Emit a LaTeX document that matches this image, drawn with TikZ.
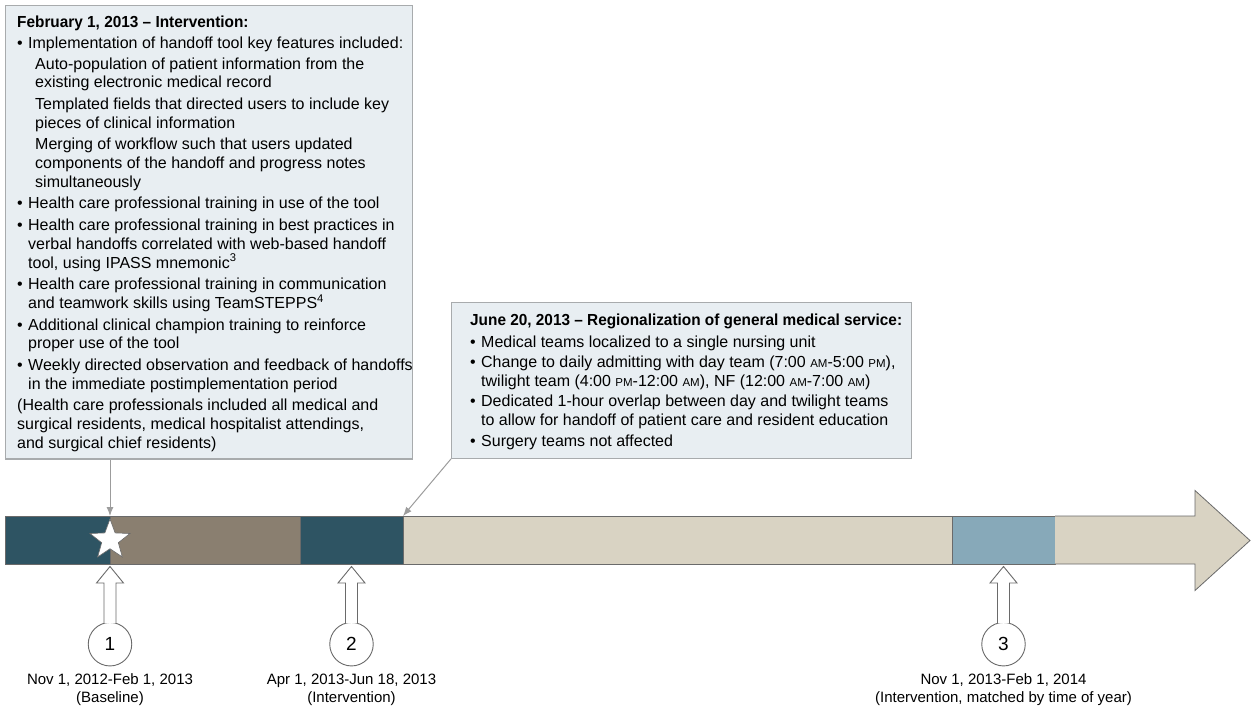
\documentclass[tikz,border=0pt]{standalone}
\usepackage{fontspec}
\setmainfont{Liberation Sans}[BoldFeatures={FakeStretch=0.96}]
\usetikzlibrary{positioning,shapes.geometric,arrows.meta}

\definecolor{boxfill}{HTML}{E8EEF2}
\definecolor{boxline}{HTML}{A8ABAD}
\definecolor{darkteal}{HTML}{2E5463}
\definecolor{taupe}{HTML}{8A7F70}
\definecolor{beige}{HTML}{D9D3C3}
\definecolor{steel}{HTML}{87A9B9}
\definecolor{barline}{HTML}{6A6A6A}
\definecolor{pointer}{HTML}{9C9C9C}

\newcommand{\boxfont}{\fontsize{16}{18.7}\selectfont}
\newcommand{\datefont}{\fontsize{15}{18.4}\selectfont}
\newcommand{\itembul}{\makebox[11pt][l]{\textbullet}}
\newcommand{\itemcont}{\hspace*{11pt}}
\newcommand{\itemsub}{\hspace*{18pt}}
\newcommand{\ampm}[1]{{\fontsize{11.5}{11.5}\selectfont #1}}

\tikzset{
    infobox/.style={draw=boxline, fill=boxfill, line width=1.2pt,
        anchor=north west, inner sep=0pt},
    infotext/.style={anchor=north west, align=left, inner sep=0pt, font=\boxfont},
    period/.style={draw=barline, line width=0.8pt, anchor=west,
        minimum height=48pt, inner sep=0pt, outer sep=0pt},
    pointer/.style={draw=pointer, line width=1pt, -{Latex[length=9pt,width=7pt]}},
    marker/.style={circle, draw=barline, line width=0.9pt, fill=white,
        minimum size=43.5pt, inner sep=0pt, font=\fontsize{19}{19}\selectfont},
    hollow/.style={draw=barline, line width=0.9pt, fill=white},
    datelabel/.style={align=center, inner sep=0pt, font=\datefont},
}

\begin{document}
\begin{tikzpicture}[x=1pt,y=-1pt]
    \useasboundingbox (0,0) rectangle (1258,711);

    % intervention box
    \node[infobox, minimum width=407pt, minimum height=453.6pt] (box1) at (5,4.7) {};
    \node[infotext] (box1text) at (17,15.9) {%
        \textbf{February 1, 2013 -- Intervention:}\\[2.5pt]
        \itembul Implementation of handoff tool key features included:\\[1.5pt]
        \itemsub Auto-population of patient information from the\\
        \itemsub existing electronic medical record\\[3pt]
        \itemsub Templated fields that directed users to include key\\
        \itemsub pieces of clinical information\\[3pt]
        \itemsub Merging of workflow such that users updated\\
        \itemsub components of the handoff and progress notes\\
        \itemsub simultaneously\\[3pt]
        \itembul Health care professional training in use of the tool\\[3pt]
        \itembul Health care professional training in best practices in\\
        \itemcont verbal handoffs correlated with web-based handoff\\
        \itemcont tool, using IPASS mnemonic\textsuperscript{3}\\[3pt]
        \itembul Health care professional training in communication\\
        \itemcont and teamwork skills using TeamSTEPPS\textsuperscript{4}\\[3pt]
        \itembul Additional clinical champion training to reinforce\\
        \itemcont proper use of the tool\\[3pt]
        \itembul Weekly directed observation and feedback of handoffs\\
        \itemcont in the immediate postimplementation period\\[3pt]
        (Health care professionals included all medical and\\
        surgical residents, medical hospitalist attendings,\\
        and surgical chief residents)};

    % regionalization box
    \node[infobox, minimum width=460pt, minimum height=155.4pt] (box2) at (451,302.3) {};
    \node[infotext] (box2text) at (470,314.2) {%
        \textbf{June 20, 2013 -- Regionalization of general medical service:}\\[2.5pt]
        \itembul Medical teams localized to a single nursing unit\\[1.5pt]
        \itembul Change to daily admitting with day team (7:00 \ampm{AM}-5:00 \ampm{PM}),\\
        \itemcont twilight team (4:00 \ampm{PM}-12:00 \ampm{AM}), NF (12:00 \ampm{AM}-7:00 \ampm{AM})\\[2pt]
        \itembul Dedicated 1-hour overlap between day and twilight teams\\
        \itemcont to allow for handoff of patient care and resident education\\[2pt]
        \itembul Surgery teams not affected};

    % time line
    \node[period, fill=darkteal, minimum width=105pt] (seg1) at (5,540) {};
    \node[period, fill=taupe, minimum width=190pt, right=0pt of seg1] (seg2) {};
    \node[period, fill=darkteal, minimum width=103pt, right=0pt of seg2] (seg3) {};
    \node[period, fill=beige, minimum width=549pt, right=0pt of seg3] (seg4) {};
    \node[period, fill=steel, minimum width=103pt, right=0pt of seg4] (seg5) {};
    \draw[draw=barline, line width=0.8pt, fill=beige] (seg5.north east) -- (1195,516)
        -- (1195,490.5) -- (1250,540.5) -- (1195,590.5) -- (1195,564) -- (seg5.south east);
    \node[star, star points=5, star point ratio=2.4, draw=barline, line width=0.6pt,
        fill=white, minimum size=42pt, inner sep=0pt] (start) at (seg1.east) {};

    \draw[pointer] (seg1.north east |- box1.south) -- (seg1.north east);
    \draw[pointer] (box2.south west) -- (seg3.north east);

    % measurement periods
    \node[marker, below=58pt of seg1.south east] (m1) {1};
    \node[marker, below=58pt of seg3.south] (m2) {2};
    \node[marker, below=58pt of seg5.south] (m3) {3};
    \foreach \m in {m1,m2,m3}
    \draw[hollow] ([xshift=-6pt,yshift=-1pt]\m.north) -- ++(0,-40) -- ++(-7.5,0)
        -- ++(13.5,-16.5) -- ++(13.5,16.5) -- ++(-7.5,0) -- ++(0,40);

    \node[datelabel, below=7pt of m1] (d1) {Nov 1, 2012-Feb 1, 2013\\(Baseline)};
    \node[datelabel, below=7pt of m2] (d2) {Apr 1, 2013-Jun 18, 2013\\(Intervention)};
    \node[datelabel, below=7pt of m3] (d3) {Nov 1, 2013-Feb 1, 2014\\(Intervention, matched by time of year)};
\end{tikzpicture}
\end{document}
